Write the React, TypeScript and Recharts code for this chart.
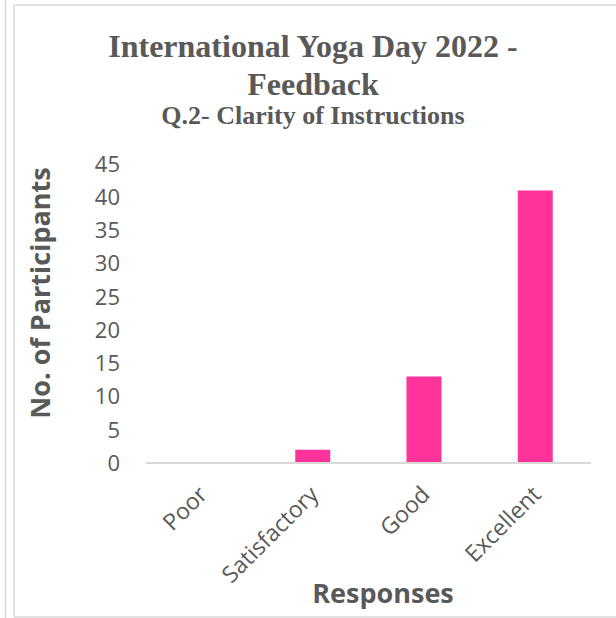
import { Bar, BarChart, XAxis, YAxis } from "recharts";

const categories = ["Poor", "Satisfactory", "Good", "Excellent"];
const participants = [0, 2, 13, 41];
const yTicks = [0, 5, 10, 15, 20, 25, 30, 35, 40, 45];

const TITLE = "International Yoga Day 2022 -";
const TITLE_2 = "Feedback";
const SUBTITLE = "Q.2- Clarity of Instructions";

const GRAY = "#595959";
const PINK = "#FF3399";
const FRAME = "#d9d9d9";
const SANS = "'Open Sans', sans-serif";
const SERIF = "'Liberation Serif', 'Times New Roman', serif";

const data = categories.map((name, i) => ({ name, value: participants[i] }));

function SlantTick(props: any) {
  const { x, y, payload } = props;
  const tx = x + 7;
  const ty = y + 33;
  return (
    <text
      x={tx}
      y={ty}
      transform={`rotate(-45, ${tx}, ${ty})`}
      textAnchor="end"
      fill={GRAY}
      fontSize={23}
      fontFamily={SANS}
    >
      {payload.value}
    </text>
  );
}

function TitleLine({ y, size, children }: { y: number; size: number; children: string }) {
  return (
    <text
      x={313}
      y={y}
      textAnchor="middle"
      fill={GRAY}
      fontFamily={SERIF}
      fontWeight="bold"
      fontSize={size}
    >
      {children}
    </text>
  );
}

export default function App() {
  return (
    <div
      style={{
        position: "absolute",
        left: 0,
        top: 0,
        width: 616,
        height: 618,
        background: "#fff",
      }}
    >
      <BarChart
        width={616}
        height={618}
        data={data}
        margin={{ top: 164, right: 25, bottom: 125, left: 0 }}
      >
        <XAxis
          dataKey="name"
          height={30}
          axisLine={{ stroke: FRAME, strokeWidth: 2 }}
          tickLine={false}
          tickSize={0}
          tickMargin={0}
          interval={0}
          tick={<SlantTick />}
        />
        <YAxis
          width={146}
          domain={[0, 45]}
          ticks={yTicks}
          interval={0}
          axisLine={false}
          tickLine={false}
          tickSize={0}
          tickMargin={26}
          tick={{ fill: GRAY, fontSize: 22, fontFamily: SANS }}
        />
        <Bar dataKey="value" fill={PINK} barSize={35} isAnimationActive={false} />
      </BarChart>

      <svg
        width={616}
        height={618}
        style={{ position: "absolute", left: 0, top: 0, pointerEvents: "none" }}
      >
        {/* frame lines around the picture */}
        <line x1={5.5} y1={0} x2={5.5} y2={618} stroke={FRAME} strokeWidth={1.5} />
        <line x1={14} y1={5} x2={14} y2={617} stroke={FRAME} strokeWidth={1.5} />
        <line x1={14} y1={5} x2={616} y2={5} stroke={FRAME} strokeWidth={1.5} />
        <line x1={14} y1={617} x2={616} y2={617} stroke={FRAME} strokeWidth={1.5} />

        <TitleLine y={57} size={32}>{TITLE}</TitleLine>
        <TitleLine y={95} size={32}>{TITLE_2}</TitleLine>
        <TitleLine y={124} size={26}>{SUBTITLE}</TitleLine>

        <text
          x={50}
          y={293}
          transform="rotate(-90, 50, 293)"
          textAnchor="middle"
          fill={GRAY}
          fontFamily={SANS}
          fontWeight="bold"
          fontSize={27}
        >
          No. of Participants
        </text>
        <text x={383} y={603} textAnchor="middle" fill={GRAY} fontFamily={SANS} fontWeight="bold" fontSize={27}>
          Responses
        </text>
      </svg>
    </div>
  );
}
